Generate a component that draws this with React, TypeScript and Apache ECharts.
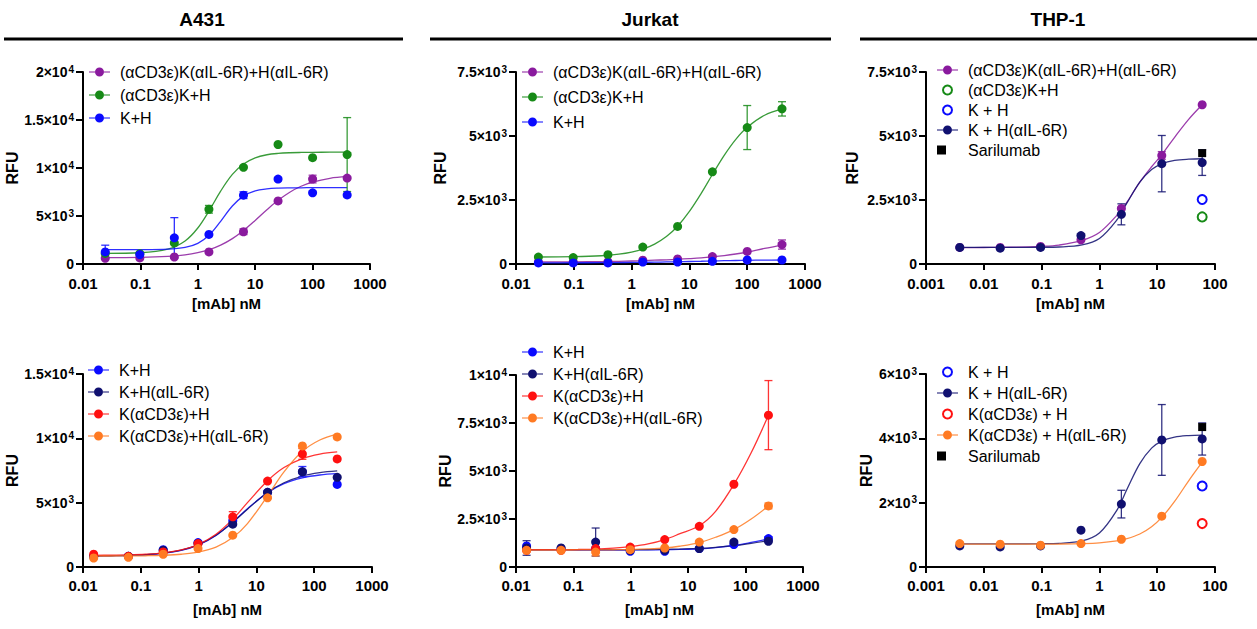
import React, { useEffect, useRef } from "react";
import * as echarts from "echarts";

// ---------- data ----------
// concentrations (nM)
const concA = [0.0244, 0.0977, 0.39, 1.5625, 6.25, 25, 100, 400];
const concB = [0.0153, 0.061, 0.244, 0.977, 3.9, 15.6, 62.5, 250];
const concT = [0.00384, 0.0192, 0.096, 0.48, 2.4, 12, 60];
const concT60 = [60];

// x positions at which the fitted curves were read
const fitXA = [0.0244, 0.1, 0.3, 0.6, 1, 1.6, 2.5, 4, 6.25, 10, 16, 25, 40, 63, 100, 200, 400];
const fitXB = [0.0153, 0.03, 0.061, 0.12, 0.244, 0.5, 0.977, 2, 3.9, 7, 15.6, 30, 62.5, 125, 250];
const fitXT = [0.00384, 0.01, 0.03, 0.1, 0.2, 0.5, 1, 2, 3, 5, 8, 12, 20, 35, 60];

// tick labels
const xTicksA = ["0.01", "0.1", "1", "10", "100", "1000"];
const xTicksT = ["0.001", "0.01", "0.1", "1", "10", "100"];
const yTicksA431Top = ["0", "5×10^3", "1×10^4", "1.5×10^4", "2×10^4"];
const yTicksJurkatTop = ["0", "2.5×10^3", "5×10^3", "7.5×10^3"];
const yTicksThpTop = ["0", "2.5×10^3", "5×10^3", "7.5×10^3"];
const yTicksA431Bot = ["0", "5×10^3", "1×10^4", "1.5×10^4"];
const yTicksJurkatBot = ["0", "2.5×10^3", "5×10^3", "7.5×10^3", "1×10^4"];
const yTicksThpBot = ["0", "2×10^3", "4×10^3", "6×10^3"];

// titles
const titles = ["A431", "Jurkat", "THP-1"];

// A431 top
const a431TopPurple = [600, 630, 730, 1260, 3360, 6570, 8850, 8950];
const a431TopPurpleErr = [0, 0, 0, 0, 300, 0, 400, 0];
const a431TopPurpleFit = [660, 695, 800, 960, 1180, 1500, 1960, 2640, 3490, 4540, 5650, 6630, 7480, 8100, 8540, 8930, 9120];
const a431TopGreen = [1100, 1080, 2200, 5700, 10070, 12450, 11080, 11400];
const a431TopGreenErr = [0, 0, 0, 400, 0, 0, 0, 3850];
const a431TopGreenFit = [1106, 1170, 1540, 2400, 3750, 5610, 7590, 9330, 10420, 11060, 11380, 11520, 11590, 11620, 11635, 11645, 11650];
const a431TopBlue = [1260, 980, 2730, 3080, 7170, 8850, 7410, 7200];
const a431TopBlueErr = [700, 0, 2100, 0, 350, 0, 0, 0];
const a431TopBlueFit = [1500, 1505, 1550, 1730, 2150, 3050, 4450, 6040, 7070, 7610, 7820, 7900, 7930, 7940, 7950, 7950, 7950];

// Jurkat top
const jurTopPurple = [80, 80, 90, 150, 200, 290, 490, 760];
const jurTopPurpleErr = [0, 0, 0, 0, 0, 0, 0, 180];
const jurTopPurpleFit = [80, 85, 95, 105, 118, 132, 148, 165, 185, 210, 240, 280, 330, 390, 465, 610, 740];
const jurTopGreen = [272, 250, 363, 662, 1466, 3600, 5330, 6060];
const jurTopGreenErr = [0, 0, 0, 0, 0, 0, 860, 280];
const jurTopGreenFit = [273, 286, 323, 383, 464, 590, 777, 1072, 1476, 2055, 2760, 3496, 4244, 4860, 5340, 5812, 6060];
const jurTopBlue = [40, 40, 40, 78, 78, 104, 156, 156];
const jurTopBlueFit = [45, 48, 52, 56, 60, 66, 72, 80, 88, 98, 108, 118, 128, 137, 145, 152, 156];

// THP-1 top
const thpTopPurple = [647, 647, 685, 944, 2170, 4240, 6220];
const thpTopPurpleErr = [0, 0, 0, 0, 0, 150, 0];
const thpTopPurpleFit = [640, 645, 655, 690, 740, 920, 1230, 1900, 2420, 3200, 3800, 4270, 4950, 5650, 6220];
const thpTopGreenOpen = [1840];
const thpTopBlueOpen = [2520];
const thpTopNavy = [647, 620, 647, 1110, 1940, 3920, 3960];
const thpTopNavyErr = [0, 0, 0, 0, 410, 1100, 500];
const thpTopNavyFit = [650, 650, 650, 654, 665, 744, 997, 1718, 2385, 3200, 3692, 3915, 4044, 4095, 4111];
const thpTopSarilumab = [4330];

// A431 bottom
const a431BotBlue = [810, 830, 1350, 1900, 3590, 5800, 7410, 6420];
const a431BotBlueErr = [0, 0, 0, 0, 0, 0, 400, 0];
const a431BotBlueFit = [852, 871, 896, 946, 1055, 1283, 1695, 2460, 3495, 4530, 5780, 6480, 6930, 7150, 7250];
const a431BotNavy = [830, 830, 1300, 1820, 3330, 5800, 7400, 6970];
const a431BotNavyFit = [852, 876, 904, 959, 1075, 1312, 1722, 2470, 3476, 4497, 5790, 6550, 7070, 7330, 7465];
const a431BotRed = [990, 830, 1170, 1820, 3900, 6680, 8790, 8400];
const a431BotRedErr = [0, 0, 0, 0, 400, 0, 420, 0];
const a431BotRedFit = [900, 920, 944, 993, 1099, 1327, 1744, 2550, 3720, 5000, 6700, 7730, 8420, 8770, 8940];
const a431BotOrange = [700, 750, 990, 1430, 2470, 5380, 9410, 10110];
const a431BotOrangeFit = [850, 855, 861, 876, 910, 991, 1160, 1552, 2290, 3370, 5520, 7390, 8990, 9870, 10330];

// Jurkat bottom
const jurBotBlue = [1100, 960, 960, 820, 820, 960, 1170, 1480];
const jurBotBlueErr = [0, 0, 0, 0, 0, 0, 0, 100];
const jurBotBlueFit = [880, 880, 880, 880, 880, 882, 885, 890, 900, 915, 950, 1010, 1120, 1280, 1460];
const jurBotNavy = [990, 990, 1300, 870, 870, 960, 1300, 1340];
const jurBotNavyErr = [380, 0, 730, 0, 0, 0, 0, 0];
const jurBotNavyFit = [900, 900, 900, 900, 900, 902, 905, 910, 920, 935, 965, 1020, 1110, 1230, 1370];
const jurBotRed = [870, 870, 960, 1040, 1430, 2120, 4310, 7910];
const jurBotRedErr = [0, 0, 0, 0, 0, 0, 0, 1800];
const jurBotRedFit = [900, 902, 905, 912, 930, 980, 1060, 1200, 1430, 1720, 2150, 2900, 4300, 5950, 7900];
const jurBotOrange = [870, 870, 780, 900, 990, 1300, 1950, 3180];
const jurBotOrangeErr = [0, 0, 200, 0, 0, 0, 0, 150];
const jurBotOrangeFit = [880, 882, 885, 887, 890, 898, 910, 940, 990, 1080, 1270, 1550, 1950, 2500, 3180];

// THP-1 bottom
const thpBotBlueOpen = [2520];
const thpBotNavy = [655, 624, 655, 1144, 1955, 3950, 3980];
const thpBotNavyErr = [0, 0, 0, 0, 430, 1100, 500];
const thpBotNavyFit = [720, 720, 720, 724, 735, 810, 1058, 1762, 2415, 3212, 3695, 3912, 4037, 4086, 4102];
const thpBotRedOpen = [1350];
const thpBotOrange = [728, 707, 676, 728, 863, 1580, 3280];
const thpBotOrangeFit = [710, 710, 710, 712, 715, 728, 752, 812, 880, 1025, 1252, 1542, 2038, 2680, 3260];
const thpBotSarilumab = [4350];

// ---------- styling ----------
const FONT = '"Liberation Sans", Arial, Helvetica, sans-serif';
const COL = {
  purple: "#8A1A9E",
  green: "#168A16",
  blue: "#0A0AFF",
  navy: "#101070",
  red: "#FF1010",
  orange: "#FF7A22",
  black: "#000000",
};
const LINE_DOT_ICON =
  "path://M0,4 L6,4 L6,5 L0,5 Z M15,4 L21,4 L21,5 L15,5 Z M6,4.5 A4.5,4.5 0 1 1 15,4.5 A4.5,4.5 0 1 1 6,4.5 Z";

type SetDef = {
  name: string;
  color: string;
  x: number[];
  y: number[];
  err?: number[];
  fit?: number[];
  kind: "line" | "open" | "square";
};

type PanelDef = {
  grid: { left: number; top: number; width: number; height: number };
  xMin: number;
  xMax: number;
  xTicks: string[];
  yMax: number;
  yInt: number;
  yTicks: string[];
  fitX: number[];
  nameGapY: number;
  nameGapX: number;
  xLabelMargin: number;
  legend: { left: number; top: number; gap: number };
  sets: SetDef[];
};

const N1 = "(αCD3ε)K(αIL-6R)+H(αIL-6R)";
const N2 = "(αCD3ε)K+H";
const N3 = "K+H";

const panels: PanelDef[] = [
  {
    grid: { left: 83, top: 72, width: 287, height: 192 },
    xMin: 0.01, xMax: 1000, xTicks: xTicksA,
    yMax: 20000, yInt: 5000, yTicks: yTicksA431Top, fitX: fitXA,
    nameGapY: 50, nameGapX: 32, xLabelMargin: 12,
    legend: { left: 89, top: 64, gap: 7 },
    sets: [
      { name: N1, color: COL.purple, x: concA, y: a431TopPurple, err: a431TopPurpleErr, fit: a431TopPurpleFit, kind: "line" },
      { name: N2, color: COL.green, x: concA, y: a431TopGreen, err: a431TopGreenErr, fit: a431TopGreenFit, kind: "line" },
      { name: N3, color: COL.blue, x: concA, y: a431TopBlue, err: a431TopBlueErr, fit: a431TopBlueFit, kind: "line" },
    ],
  },
  {
    grid: { left: 516, top: 72, width: 289, height: 192 },
    xMin: 0.01, xMax: 1000, xTicks: xTicksA,
    yMax: 7500, yInt: 2500, yTicks: yTicksJurkatTop, fitX: fitXA,
    nameGapY: 68, nameGapX: 32, xLabelMargin: 12,
    legend: { left: 522, top: 64, gap: 9 },
    sets: [
      { name: N1, color: COL.purple, x: concA, y: jurTopPurple, err: jurTopPurpleErr, fit: jurTopPurpleFit, kind: "line" },
      { name: N2, color: COL.green, x: concA, y: jurTopGreen, err: jurTopGreenErr, fit: jurTopGreenFit, kind: "line" },
      { name: N3, color: COL.blue, x: concA, y: jurTopBlue, fit: jurTopBlueFit, kind: "line" },
    ],
  },
  {
    grid: { left: 926, top: 72, width: 289, height: 192 },
    xMin: 0.001, xMax: 100, xTicks: xTicksT,
    yMax: 7500, yInt: 2500, yTicks: yTicksThpTop, fitX: fitXT,
    nameGapY: 66, nameGapX: 32, xLabelMargin: 12,
    legend: { left: 937, top: 62, gap: 4 },
    sets: [
      { name: N1, color: COL.purple, x: concT, y: thpTopPurple, err: thpTopPurpleErr, fit: thpTopPurpleFit, kind: "line" },
      { name: N2, color: COL.green, x: concT60, y: thpTopGreenOpen, kind: "open" },
      { name: "K + H", color: COL.blue, x: concT60, y: thpTopBlueOpen, kind: "open" },
      { name: "K + H(αIL-6R)", color: COL.navy, x: concT, y: thpTopNavy, err: thpTopNavyErr, fit: thpTopNavyFit, kind: "line" },
      { name: "Sarilumab", color: COL.black, x: concT60, y: thpTopSarilumab, kind: "square" },
    ],
  },
  {
    grid: { left: 83, top: 374, width: 289, height: 193 },
    xMin: 0.01, xMax: 1000, xTicks: xTicksA,
    yMax: 15000, yInt: 5000, yTicks: yTicksA431Bot, fitX: fitXB,
    nameGapY: 62, nameGapX: 35, xLabelMargin: 11,
    legend: { left: 88, top: 362, gap: 6 },
    sets: [
      { name: "K+H", color: COL.blue, x: concB, y: a431BotBlue, err: a431BotBlueErr, fit: a431BotBlueFit, kind: "line" },
      { name: "K+H(αIL-6R)", color: COL.navy, x: concB, y: a431BotNavy, fit: a431BotNavyFit, kind: "line" },
      { name: "K(αCD3ε)+H", color: COL.red, x: concB, y: a431BotRed, err: a431BotRedErr, fit: a431BotRedFit, kind: "line" },
      { name: "K(αCD3ε)+H(αIL-6R)", color: COL.orange, x: concB, y: a431BotOrange, fit: a431BotOrangeFit, kind: "line" },
    ],
  },
  {
    grid: { left: 516, top: 375, width: 287, height: 192 },
    xMin: 0.01, xMax: 1000, xTicks: xTicksA,
    yMax: 10000, yInt: 2500, yTicks: yTicksJurkatBot, fitX: fitXB,
    nameGapY: 49, nameGapX: 35, xLabelMargin: 11,
    legend: { left: 522, top: 344, gap: 6 },
    sets: [
      { name: "K+H", color: COL.blue, x: concB, y: jurBotBlue, err: jurBotBlueErr, fit: jurBotBlueFit, kind: "line" },
      { name: "K+H(αIL-6R)", color: COL.navy, x: concB, y: jurBotNavy, err: jurBotNavyErr, fit: jurBotNavyFit, kind: "line" },
      { name: "K(αCD3ε)+H", color: COL.red, x: concB, y: jurBotRed, err: jurBotRedErr, fit: jurBotRedFit, kind: "line" },
      { name: "K(αCD3ε)+H(αIL-6R)", color: COL.orange, x: concB, y: jurBotOrange, err: jurBotOrangeErr, fit: jurBotOrangeFit, kind: "line" },
    ],
  },
  {
    grid: { left: 926, top: 374, width: 289, height: 193 },
    xMin: 0.001, xMax: 100, xTicks: xTicksT,
    yMax: 6000, yInt: 2000, yTicks: yTicksThpBot, fitX: fitXT,
    nameGapY: 52, nameGapX: 35, xLabelMargin: 11,
    legend: { left: 937, top: 364, gap: 5 },
    sets: [
      { name: "K + H", color: COL.blue, x: concT60, y: thpBotBlueOpen, kind: "open" },
      { name: "K + H(αIL-6R)", color: COL.navy, x: concT, y: thpBotNavy, err: thpBotNavyErr, fit: thpBotNavyFit, kind: "line" },
      { name: "K(αCD3ε) + H", color: COL.red, x: concT60, y: thpBotRedOpen, kind: "open" },
      { name: "K(αCD3ε) + H(αIL-6R)", color: COL.orange, x: concT, y: thpBotOrange, fit: thpBotOrangeFit, kind: "line" },
      { name: "Sarilumab", color: COL.black, x: concT60, y: thpBotSarilumab, kind: "square" },
    ],
  },
];

const titlePos = [
  { cx: 202, x1: 4, x2: 403 },
  { cx: 650, x1: 430, x2: 831 },
  { cx: 1058, x1: 860, x2: 1257 },
];

function buildOption() {
  const grid: any[] = [];
  const xAxis: any[] = [];
  const yAxis: any[] = [];
  const legend: any[] = [];
  const series: any[] = [];

  panels.forEach((p, pi) => {
    grid.push({ ...p.grid, containLabel: false });
    const minExp = Math.round(Math.log10(p.xMin));
    xAxis.push({
      type: "log",
      logBase: 10,
      gridIndex: pi,
      min: p.xMin,
      max: p.xMax,
      name: "[mAb] nM",
      nameLocation: "middle",
      nameGap: p.nameGapX,
      nameTextStyle: { fontSize: 15, fontWeight: "bold", color: "#000", fontFamily: FONT },
      axisLine: { show: true, onZero: false, lineStyle: { color: "#000", width: 2 } },
      axisTick: { show: true, length: 6, lineStyle: { color: "#000", width: 2 } },
      minorTick: { show: false },
      splitLine: { show: false },
      axisLabel: {
        margin: p.xLabelMargin,
        fontSize: 15,
        fontWeight: "bold",
        color: "#000",
        fontFamily: FONT,
        formatter: (v: number) => {
          const e = Math.round(Math.log10(v));
          return p.xTicks[e - minExp] ?? "";
        },
      },
    });
    yAxis.push({
      type: "value",
      gridIndex: pi,
      min: 0,
      max: p.yMax,
      interval: p.yInt,
      name: "RFU",
      nameLocation: "middle",
      nameGap: p.nameGapY,
      nameRotate: 90,
      nameTextStyle: { fontSize: 16, fontWeight: "bold", color: "#000", fontFamily: FONT },
      axisLine: { show: true, onZero: false, lineStyle: { color: "#000", width: 2 } },
      axisTick: { show: true, length: 7, lineStyle: { color: "#000", width: 2 } },
      splitLine: { show: false },
      axisLabel: {
        margin: 9,
        formatter: (v: number) => {
          const t = p.yTicks[Math.round(v / p.yInt)] ?? "";
          const [m, s] = t.split("^");
          return s ? `{m|${m}}{s|${s}}` : `{m|${m}}`;
        },
        rich: {
          m: { fontSize: 14, fontWeight: "bold", color: "#000", fontFamily: FONT },
          s: { fontSize: 10, fontWeight: "bold", color: "#000", fontFamily: FONT, verticalAlign: "top", padding: [0, 0, 6, 1] },
        },
      },
    });

    legend.push({
      orient: "vertical",
      left: p.legend.left,
      top: p.legend.top,
      padding: 0,
      itemGap: p.legend.gap,
      itemWidth: 21,
      itemHeight: 9,
      selectedMode: false,
      textStyle: { fontSize: 16, color: "#000", fontFamily: FONT, lineHeight: 16, padding: [0, 0, 0, 5] },
      data: p.sets.map((s) => {
        if (s.kind === "open")
          return { name: s.name, icon: "circle", itemStyle: { color: "#fff", borderColor: s.color, borderWidth: 2, opacity: 1 } };
        if (s.kind === "square")
          return { name: s.name, icon: "square", itemStyle: { color: s.color, borderWidth: 0, opacity: 1 } };
        return { name: s.name, icon: LINE_DOT_ICON, itemStyle: { color: s.color, borderWidth: 0, opacity: 1 } };
      }),
    });

    p.sets.forEach((s) => {
      if (s.fit) {
        series.push({
          type: "line",
          xAxisIndex: pi,
          yAxisIndex: pi,
          data: p.fitX.map((x, k) => [x, s.fit![k]]),
          smooth: 0.35,
          showSymbol: false,
          symbol: "none",
          lineStyle: { color: s.color, width: 1.3, opacity: 0.85 },
          silent: true,
          z: 2,
        });
      }
      if (s.err) {
        const color = s.color;
        series.push({
          type: "custom",
          xAxisIndex: pi,
          yAxisIndex: pi,
          silent: true,
          z: 3,
          encode: { x: 0, y: [1, 2] },
          data: s.x
            .map((x, k) => [x, s.y[k] - s.err![k], s.y[k] + s.err![k], s.err![k]])
            .filter((d) => d[3] > 0),
          renderItem: (params: any, api: any) => {
            const x = api.value(0);
            const top = api.coord([x, api.value(2)]);
            const bot = api.coord([x, api.value(1)]);
            const w = 4;
            const st = { stroke: color, lineWidth: 1.3, opacity: 0.85 };
            return {
              type: "group",
              children: [
                { type: "line", shape: { x1: top[0], y1: top[1], x2: bot[0], y2: bot[1] }, style: st },
                { type: "line", shape: { x1: top[0] - w, y1: top[1], x2: top[0] + w, y2: top[1] }, style: st },
                { type: "line", shape: { x1: bot[0] - w, y1: bot[1], x2: bot[0] + w, y2: bot[1] }, style: st },
              ],
            };
          },
        });
      }
      const itemStyle =
        s.kind === "open"
          ? { color: "#fff", borderColor: s.color, borderWidth: 2, opacity: 1 }
          : { color: s.color, borderWidth: 0, opacity: 1 };
      series.push({
        type: "scatter",
        name: s.name,
        xAxisIndex: pi,
        yAxisIndex: pi,
        data: s.x.map((x, k) => [x, s.y[k]]),
        symbol: s.kind === "square" ? "rect" : "circle",
        symbolSize: s.kind === "square" ? 8 : 9,
        itemStyle,
        silent: true,
        z: 4,
      });
    });
  });

  const graphic: any[] = [];
  titles.forEach((t, i) => {
    graphic.push({
      type: "text",
      x: titlePos[i].cx,
      y: 19,
      style: {
        text: t,
        align: "center",
        verticalAlign: "middle",
        fontSize: 19,
        fontWeight: "bold",
        fontFamily: FONT,
        fill: "#000",
      },
    });
    graphic.push({
      type: "line",
      shape: { x1: titlePos[i].x1, y1: 39, x2: titlePos[i].x2, y2: 39 },
      style: { stroke: "#000", lineWidth: 3 },
    });
  });

  return {
    animation: false,
    backgroundColor: "#fff",
    textStyle: { fontFamily: FONT },
    grid,
    xAxis,
    yAxis,
    legend,
    series,
    graphic,
  };
}

export default function App() {
  const ref = useRef<HTMLDivElement>(null);
  useEffect(() => {
    if (!ref.current) return;
    const chart = echarts.init(ref.current, undefined, { renderer: "svg" });
    chart.setOption(buildOption() as any);
    return () => chart.dispose();
  }, []);
  return (
    <div
      ref={ref}
      style={{ position: "fixed", left: 0, top: 0, width: 1257, height: 629, background: "#fff" }}
    />
  );
}
